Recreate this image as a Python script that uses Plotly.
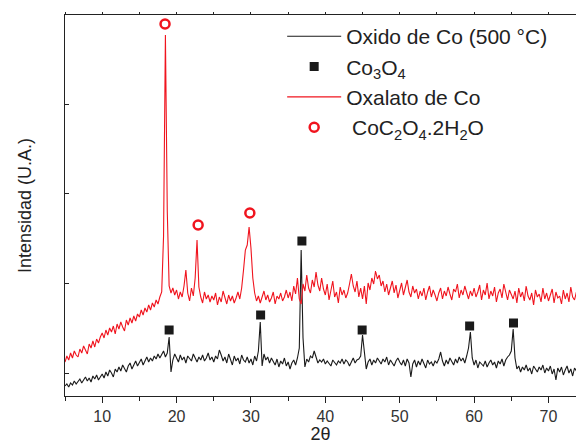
import plotly.graph_objects as go

two_theta = [
    5.0, 5.25, 5.5, 5.75, 6.0, 6.25, 6.5, 6.75, 7.0, 7.25, 7.5, 7.75, 8.0, 8.25, 8.5, 8.75, 9.0, 9.25, 9.5, 9.75,
    10.0, 10.25, 10.5, 10.75, 11.0, 11.25, 11.5, 11.75, 12.0, 12.25, 12.5, 12.75, 13.0, 13.25, 13.5, 13.75, 14.0, 14.25, 14.5, 14.75,
    15.0, 15.25, 15.5, 15.75, 16.0, 16.25, 16.5, 16.75, 17.0, 17.25, 17.5, 17.75, 18.0, 18.25, 18.5, 18.75, 19.0, 19.25, 19.5, 19.75,
    20.0, 20.25, 20.5, 20.75, 21.0, 21.25, 21.5, 21.75, 22.0, 22.25, 22.5, 22.75, 23.0, 23.25, 23.5, 23.75, 24.0, 24.25, 24.5, 24.75,
    25.0, 25.25, 25.5, 25.75, 26.0, 26.25, 26.5, 26.75, 27.0, 27.25, 27.5, 27.75, 28.0, 28.25, 28.5, 28.75, 29.0, 29.25, 29.5, 29.75,
    30.0, 30.25, 30.5, 30.75, 31.0, 31.25, 31.5, 31.75, 32.0, 32.25, 32.5, 32.75, 33.0, 33.25, 33.5, 33.75, 34.0, 34.25, 34.5, 34.75,
    35.0, 35.25, 35.5, 35.75, 36.0, 36.25, 36.5, 36.75, 37.0, 37.25, 37.5, 37.75, 38.0, 38.25, 38.5, 38.75, 39.0, 39.25, 39.5, 39.75,
    40.0, 40.25, 40.5, 40.75, 41.0, 41.25, 41.5, 41.75, 42.0, 42.25, 42.5, 42.75, 43.0, 43.25, 43.5, 43.75, 44.0, 44.25, 44.5, 44.75,
    45.0, 45.25, 45.5, 45.75, 46.0, 46.25, 46.5, 46.75, 47.0, 47.25, 47.5, 47.75, 48.0, 48.25, 48.5, 48.75, 49.0, 49.25, 49.5, 49.75,
    50.0, 50.25, 50.5, 50.75, 51.0, 51.25, 51.5, 51.75, 52.0, 52.25, 52.5, 52.75, 53.0, 53.25, 53.5, 53.75, 54.0, 54.25, 54.5, 54.75,
    55.0, 55.25, 55.5, 55.75, 56.0, 56.25, 56.5, 56.75, 57.0, 57.25, 57.5, 57.75, 58.0, 58.25, 58.5, 58.75, 59.0, 59.25, 59.5, 59.75,
    60.0, 60.25, 60.5, 60.75, 61.0, 61.25, 61.5, 61.75, 62.0, 62.25, 62.5, 62.75, 63.0, 63.25, 63.5, 63.75, 64.0, 64.25, 64.5, 64.75,
    65.0, 65.25, 65.5, 65.75, 66.0, 66.25, 66.5, 66.75, 67.0, 67.25, 67.5, 67.75, 68.0, 68.25, 68.5, 68.75, 69.0, 69.25, 69.5, 69.75,
    70.0, 70.25, 70.5, 70.75, 71.0, 71.25, 71.5, 71.75, 72.0, 72.25, 72.5, 72.75, 73.0, 73.25, 73.5, 73.75,
]

oxido_intensity = [
    10, 12, 9, 13, 11, 15, 12, 14, 17, 13, 16, 19, 15, 18, 14, 20, 17, 21, 16, 19,
    22, 18, 24, 20, 26, 23, 19, 27, 24, 29, 25, 31, 28, 24, 30, 33, 27, 31, 35, 30,
    33, 37, 31, 36, 39, 34, 38, 35, 40, 37, 42, 38, 41, 45, 39, 43, 59, 24, 36, 42,
    38, 34, 41, 36, 39, 33, 40, 37, 35, 42, 38, 34, 39, 36, 41, 35, 38, 43, 36, 39,
    34, 40, 37, 46, 41, 35, 39, 33, 42, 36, 31, 40, 35, 38, 32, 41, 36, 34, 39, 33,
    37, 31, 40, 35, 45, 74, 30, 42, 36, 39, 33, 38, 34, 31, 37, 29, 35, 32, 38, 30,
    34, 27, 33, 36, 31, 38, 48, 146, 58, 29, 37, 34, 40, 38, 45, 39, 33, 36, 34, 37,
    32, 35, 33, 30, 36, 34, 31, 35, 33, 37, 32, 36, 34, 30, 35, 38, 33, 36, 37, 40,
    61, 40, 27, 34, 37, 31, 36, 33, 38, 35, 32, 37, 34, 39, 31, 36, 33, 30, 35, 38,
    34, 31, 36, 30, 37, 33, 19, 32, 36, 29, 35, 31, 37, 33, 28, 36, 32, 34, 30, 35,
    33, 37, 44, 35, 30, 36, 32, 38, 34, 31, 37, 33, 39, 35, 38, 33, 40, 48, 64, 38,
    31, 36, 28, 34, 32, 30, 35, 29, 33, 36, 31, 34, 28, 35, 32, 37, 30, 36, 39, 41,
    45, 67, 38, 27, 30, 24, 29, 26, 31, 25, 28, 22, 30, 27, 24, 29, 26, 31, 23, 28,
    25, 30, 22, 27, 16, 28, 24, 29, 21, 26, 30, 23, 27, 20, 28, 25,
]

oxalato_intensity = [
    34, 40, 36, 43, 38, 45, 41, 39, 47, 43, 50, 46, 42, 52, 48, 55, 49, 57, 53, 59,
    63, 58, 66, 61, 68, 64, 70, 62, 72, 67, 74, 69, 65, 76, 71, 78, 73, 80, 75, 82,
    79, 86, 81, 88, 84, 91, 86, 93, 89, 96, 92, 99, 104, 160, 361, 185, 110, 103, 108, 101,
    106, 97, 104, 99, 110, 126, 103, 95, 108, 100, 118, 156, 109, 99, 93, 104, 97, 101, 94, 100,
    96, 103, 91, 99, 94, 105, 97, 92, 101, 95, 100, 93, 98, 104, 97, 108, 126, 146, 151, 169,
    148, 118, 103, 95, 100, 93, 99, 105, 96, 101, 94, 98, 104, 92, 100, 97, 103, 95, 99, 106,
    98, 104, 95, 110, 102, 118, 97, 92, 112, 105, 121, 108, 103, 116, 109, 124, 111, 105, 118, 107,
    101, 112, 96, 107, 115, 99, 104, 93, 109, 101, 106, 98, 103, 112, 122, 110, 104, 115, 99, 108,
    97, 110, 92, 113, 106, 118, 112, 125, 117, 121, 110, 115, 104, 112, 101, 108, 115, 103, 111, 98,
    106, 113, 101, 109, 116, 104, 99, 110, 103, 107, 97, 105, 100, 108, 96, 104, 110, 99, 106, 101,
    95, 103, 108, 97, 105, 100, 109, 102, 96, 107, 104, 112, 98, 106, 101, 110, 103, 97, 105, 100,
    108, 99, 104, 111, 96, 106, 101, 113, 97, 105, 100, 109, 94, 103, 107, 98, 112, 102, 96, 106,
    101, 97, 105, 93, 108, 99, 104, 95, 110, 100, 96, 103, 91, 106, 99, 102, 94, 108, 97, 103,
    95, 101, 107, 93, 104, 98, 100, 92, 106, 97, 103, 94, 109, 99, 96, 104,
]

co3o4_peaks_x = [19.0, 31.3, 36.85, 44.95, 59.4, 65.3]
co3o4_marker_y = [66, 81, 155, 66, 70, 73]

oxalate_peaks_x = [18.45, 22.9, 29.85]
oxalate_marker_y = [372, 171, 183]

y_ticks = [23, 113, 203, 292]

BLACK = "#1a1a1a"
RED = "#f0141e"
FONT = "Liberation Sans, Arial, sans-serif"

fig = go.Figure()
fig.add_trace(go.Scatter(x=two_theta, y=oxido_intensity, mode="lines",
                         line=dict(color=BLACK, width=1.1), name="Oxido de Co (500 °C)"))
fig.add_trace(go.Scatter(x=co3o4_peaks_x, y=co3o4_marker_y, mode="markers",
                         marker=dict(symbol="square", size=9, color=BLACK),
                         name="Co<sub>3</sub>O<sub>4</sub>"))
fig.add_trace(go.Scatter(x=two_theta, y=oxalato_intensity, mode="lines",
                         line=dict(color=RED, width=1.1), name="Oxalato de Co"))
fig.add_trace(go.Scatter(x=oxalate_peaks_x, y=oxalate_marker_y, mode="markers",
                         marker=dict(symbol="circle-open", size=9, color=RED, line=dict(width=2.5, color=RED)),
                         name="&nbsp;CoC<sub>2</sub>O<sub>4</sub>.2H<sub>2</sub>O"))
# invisible trace on the top axis to show its ticks
fig.add_trace(go.Scatter(x=[5, 73.7], y=[0, 0], xaxis="x2", mode="markers",
                         marker=dict(opacity=0), showlegend=False, hoverinfo="skip"))

fig.update_layout(
    width=576, height=444,
    margin=dict(l=65, r=0, t=15, b=48),
    paper_bgcolor="white", plot_bgcolor="white",
    font=dict(family=FONT, color="#333333"),
    showlegend=True,
    legend=dict(x=0.425, y=0.997, xanchor="left", yanchor="top",
                font=dict(size=21, color="#222222", family=FONT),
                bgcolor="rgba(0,0,0,0)", itemwidth=54, tracegroupgap=0),
    xaxis=dict(range=[5, 73.7], showgrid=False, zeroline=False,
               showline=True, linecolor="#222222", linewidth=1.3, mirror=True,
               ticks="outside", ticklen=6, tickwidth=1.2, tickcolor="#222222",
               dtick=10, tick0=0,
               minor=dict(dtick=5, ticks="outside", ticklen=4, tickwidth=1.2, tickcolor="#222222"),
               tickfont=dict(size=16, color="#333333"),
               title=dict(text="2θ", font=dict(size=18, color="#222222"), standoff=24),
               automargin=False),
    xaxis2=dict(range=[5, 73.7], overlaying="x", side="top", showgrid=False, zeroline=False,
                showline=False, ticks="outside", ticklen=2, tickwidth=1, tickcolor="#222222",
                dtick=5, tick0=0, showticklabels=False, automargin=False),
    yaxis=dict(range=[0, 381], showgrid=False, zeroline=False,
               showline=True, linecolor="#222222", linewidth=1.3,
               ticks="inside", ticklen=4, tickwidth=1.2, tickcolor="#222222",
               tickvals=y_ticks, showticklabels=False,
               title=dict(text="Intensidad (U.A.)", font=dict(size=18, color="#222222"), standoff=27),
               automargin=False),
)

fig.write_html("out.html", config={"displayModeBar": False},
               post_script="document.body.style.margin='0';document.body.style.overflow='hidden';")
